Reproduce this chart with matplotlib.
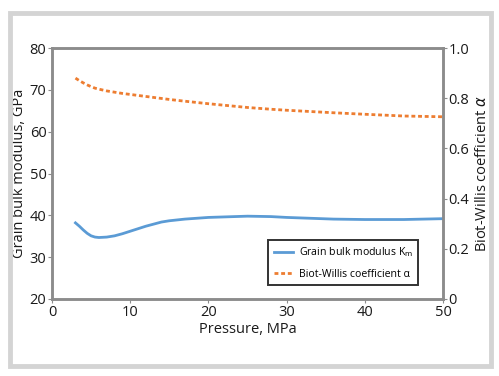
import matplotlib
matplotlib.use("Agg")
import matplotlib.pyplot as plt
from matplotlib.patches import Rectangle

plt.rcParams['font.family'] = ['Open Sans', 'DejaVu Sans']

pressure = [3, 3.5, 4, 4.5, 5, 5.5, 6, 7, 8, 9, 10, 11, 12, 13, 14, 15, 17, 20, 25, 28, 30, 33, 36, 40, 45, 50]
grain_modulus = [38.2, 37.4, 36.5, 35.7, 35.1, 34.8, 34.7, 34.8, 35.1, 35.6, 36.2, 36.8, 37.4, 37.9, 38.4, 38.7,
                 39.1, 39.5, 39.8, 39.7, 39.5, 39.3, 39.1, 39.0, 39.0, 39.2]
biot_alpha = [0.880, 0.870, 0.861, 0.853, 0.846, 0.840, 0.836, 0.829, 0.824, 0.819, 0.815, 0.811, 0.807, 0.803,
              0.799, 0.795, 0.788, 0.778, 0.763, 0.756, 0.752, 0.747, 0.742, 0.736, 0.729, 0.726]

x_ticks = [0, 10, 20, 30, 40, 50]
left_ticks = [20, 30, 40, 50, 60, 70, 80]
right_ticks = [0, 0.2, 0.4, 0.6, 0.8, 1.0]
right_labels = ['0', '0.2', '0.4', '0.6', '0.8', '1.0']

blue = '#5b9bd5'
orange = '#ed7d31'
spine_c = '#8c8c8c'

fig = plt.figure(figsize=(4.99, 3.76), dpi=100)
fig.patches.append(Rectangle((10/499, 1-366/376), 481/499, 353/376, transform=fig.transFigure,
                             fill=False, edgecolor='#d4d4d4', linewidth=3.5))

ax = fig.add_axes([52/499, 1-299/376, 391/499, 251/376])
ax2 = ax.twinx()

l1, = ax.plot(pressure, grain_modulus, color=blue, lw=2.0, label='Grain bulk modulus K$_\\mathrm{m}$')
l2, = ax2.plot(pressure, biot_alpha, color=orange, lw=2.0, linestyle=(0, (1.4, 1.0)),
               label='Biot-Willis coefficient α')

ax.set_xlim(0, 50)
ax.set_ylim(20, 80)
ax2.set_ylim(0, 1.0)
ax.set_xticks(x_ticks)
ax.set_yticks(left_ticks)
ax2.set_yticks(right_ticks)
ax2.set_yticklabels(right_labels)

for a in (ax, ax2):
    for s in a.spines.values():
        s.set_color(spine_c)
        s.set_linewidth(1.8)
    a.tick_params(colors=spine_c, labelcolor='#1a1a1a', labelsize=10.5, length=3, width=0.8, pad=1)

ax.set_xlabel('Pressure, MPa', fontsize=10.5, color='#1a1a1a', labelpad=2)
ax.set_ylabel('Grain bulk modulus, GPa', fontsize=10.5, color='#1a1a1a', labelpad=2)
ax2.set_ylabel('Biot-Willis coefficient $\\alpha$', fontsize=10.5, color='#1a1a1a', labelpad=4)

leg = ax.legend(handles=[l1, l2], loc='lower right', bbox_to_anchor=(0.937, 0.055),
                fontsize=7.6, frameon=True, fancybox=False, handlelength=1.8, handletextpad=0.6,
                borderpad=0.5, labelspacing=0.9, borderaxespad=0)
leg.get_frame().set_edgecolor('black')
leg.get_frame().set_linewidth(1.4)

fig.savefig('out.png', dpi=100)
